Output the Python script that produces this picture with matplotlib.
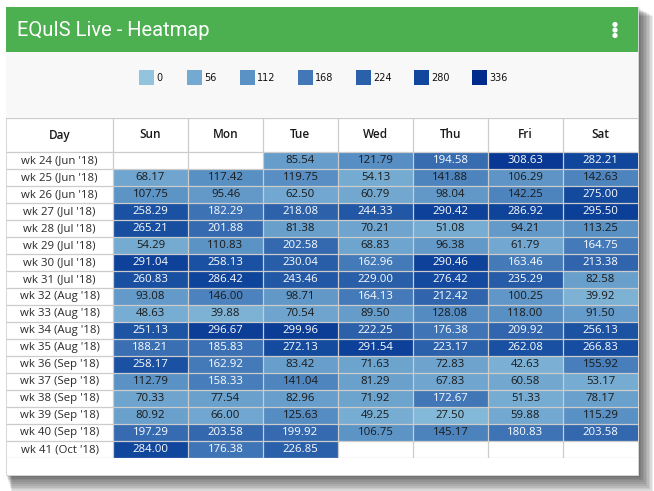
import numpy as np
import matplotlib
matplotlib.use("Agg")
import matplotlib.pyplot as plt
from matplotlib.colors import LinearSegmentedColormap
from matplotlib.patches import Rectangle, Circle

# ---------------- data ----------------
title = "EQuIS Live - Heatmap"
days = ["Sun", "Mon", "Tue", "Wed", "Thu", "Fri", "Sat"]
weeks = ["wk 24 (Jun '18)", "wk 25 (Jun '18)", "wk 26 (Jun '18)", "wk 27 (Jul '18)",
         "wk 28 (Jul '18)", "wk 29 (Jul '18)", "wk 30 (Jul '18)", "wk 31 (Jul '18)",
         "wk 32 (Aug '18)", "wk 33 (Aug '18)", "wk 34 (Aug '18)", "wk 35 (Aug '18)",
         "wk 36 (Sep '18)", "wk 37 (Sep '18)", "wk 38 (Sep '18)", "wk 39 (Sep '18)",
         "wk 40 (Sep '18)", "wk 41 (Oct '18)"]
nan = np.nan
sun = [nan, 68.17, 107.75, 258.29, 265.21, 54.29, 291.04, 260.83, 93.08, 48.63,
       251.13, 188.21, 258.17, 112.79, 70.33, 80.92, 197.29, 284.00]
mon = [nan, 117.42, 95.46, 182.29, 201.88, 110.83, 258.13, 286.42, 146.00, 39.88,
       296.67, 185.83, 162.92, 158.33, 77.54, 66.00, 203.58, 176.38]
tue = [85.54, 119.75, 62.50, 218.08, 81.38, 202.58, 230.04, 243.46, 98.71, 70.54,
       299.96, 272.13, 83.42, 141.04, 82.96, 125.63, 199.92, 226.85]
wed = [121.79, 54.13, 60.79, 244.33, 70.21, 68.83, 162.96, 229.00, 164.13, 89.50,
       222.25, 291.54, 71.63, 81.29, 71.92, 49.25, 106.75, nan]
thu = [194.58, 141.88, 98.04, 290.42, 51.08, 96.38, 290.46, 276.42, 212.42, 128.08,
       176.38, 223.17, 72.83, 67.83, 172.67, 27.50, 145.17, nan]
fri = [308.63, 106.29, 142.25, 286.92, 94.21, 61.79, 163.46, 235.29, 100.25, 118.00,
       209.92, 262.08, 42.63, 60.58, 51.33, 59.88, 180.83, nan]
sat = [282.21, 142.63, 275.00, 295.50, 113.25, 164.75, 213.38, 82.58, 39.92, 91.50,
       256.13, 266.83, 155.92, 53.17, 78.17, 115.29, 203.58, nan]
legend_values = [0, 56, 112, 168, 224, 280, 336]
legend_colors = ["#92c4de", "#74aad1", "#5b92c5", "#4378b8", "#2b60aa", "#11489d", "#002a8c"]

# ---------------- figure ----------------
W, H = 654, 491
fig = plt.figure(figsize=(W / 100, H / 100), dpi=100)
fig.patch.set_facecolor("white")

bg = fig.add_axes([0, 0, 1, 1], zorder=0)
bg.set_xlim(0, W)
bg.set_ylim(H, 0)
bg.axis("off")

cx0, cy0, cx1, cy1 = 6, 7, 638, 475  # card
# shadow
for k in range(1, 11):
    bg.add_patch(Rectangle((cx0 + k * 0.6, cy0 + k * 0.9), (cx1 - cx0) + k * 0.9, (cy1 - cy0) + k * 0.9,
                           facecolor="black", alpha=0.075, linewidth=0))
bg.add_patch(Rectangle((cx0, cy0), cx1 - cx0, cy1 - cy0, facecolor="white", edgecolor="#d6d6d6", linewidth=0.7))
# green header
bg.add_patch(Rectangle((cx0, cy0), cx1 - cx0, 52 - cy0, facecolor="#4caf50", linewidth=0))
bg.text(17, 30.5, title, color="white", fontsize=14.5, family="Roboto", va="center", ha="left")
for dy in (24.5, 30, 35.5):
    bg.add_patch(Circle((615, dy), 1.9, color="white"))
# legend band
bg.add_patch(Rectangle((cx0, 52), cx1 - cx0, 118 - 52, facecolor="#f8f8f8", linewidth=0))

sq = 15
labels = [str(v) for v in legend_values]
adv = [sq + 3 + len(s) * 5.4 + 24 for s in labels]
total = sum(adv) - 24
lx = 323 - total / 2
for s, c, a in zip(labels, legend_colors, adv):
    bg.add_patch(Rectangle((lx, 70), sq, 14.5, facecolor=c, linewidth=0))
    bg.text(lx + sq + 2, 77.5, s, fontsize=7, family="DejaVu Sans", color="#111111", va="center", ha="left")
    lx += a

# ---------------- table ----------------
tx0, ty0, tx1, ty1 = cx0, 118, cx1, 458
day_w = 107 / 75.0
ax = fig.add_axes([tx0 / W, 1 - ty1 / H, (tx1 - tx0) / W, (ty1 - ty0) / H], zorder=1)
ax.set_facecolor("none")
ax.set_xlim(-day_w, len(days))
ax.set_ylim(len(weeks), -2)
ax.axis("off")

data = np.array([sun, mon, tue, wed, thu, fri, sat]).T
cmap = LinearSegmentedColormap.from_list(
    "eq", [(v / legend_values[-1], c) for v, c in zip(legend_values, legend_colors)])
ax.pcolormesh(np.arange(len(days) + 1), np.arange(len(weeks) + 1), np.ma.masked_invalid(data),
              cmap=cmap, vmin=legend_values[0], vmax=legend_values[-1], shading="flat")

grid_c = "#cccccc"
for x in range(0, len(days)):
    ax.plot([x, x], [-2, len(weeks)], color=grid_c, lw=0.9, solid_capstyle="butt")
ax.plot([-day_w, len(days)], [-2, -2], color=grid_c, lw=0.9)
for y in range(0, len(weeks) + 1):
    ax.plot([-day_w, len(days)], [y, y], color=grid_c, lw=0.9)

tfont = "Open Sans"
ax.text(-day_w / 2, -1, "Day", ha="center", va="center", fontsize=8.5, family=tfont,
        weight="semibold", color="#1a1a1a")
for j, d in enumerate(days):
    ax.text(j + 0.5, -1, d, ha="center", va="center", fontsize=8.5, family=tfont,
            weight="semibold", color="#1a1a1a")
for i, w in enumerate(weeks):
    ax.text(-day_w / 2, i + 0.5, w, ha="center", va="center", fontsize=8.2, family=tfont,
            color="#2a2a2a")
    for j in range(len(days)):
        v = data[i, j]
        if np.isnan(v):
            continue
        ax.text(j + 0.5, i + 0.52, f"{v:.2f}", ha="center", va="center", fontsize=8.2,
                family=tfont, color="white" if v >= 157 else "#1a1a1a")

fig.savefig("out.png", dpi=100)
